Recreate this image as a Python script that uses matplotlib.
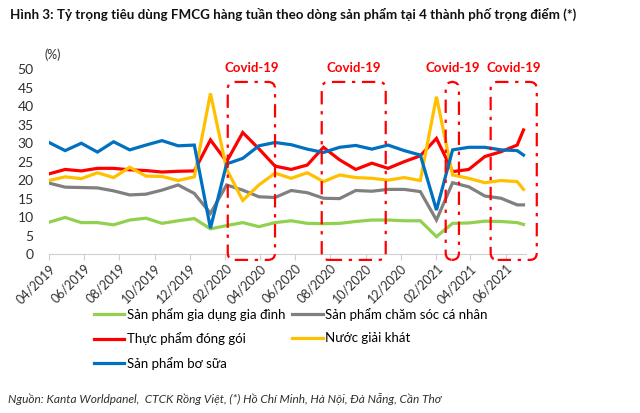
import matplotlib
matplotlib.use("Agg")
import matplotlib.pyplot as plt
import matplotlib.dates as mdates
import pandas as pd
from matplotlib.patches import FancyBboxPatch
from matplotlib.transforms import IdentityTransform

plt.rcParams["font.family"] = ["Lato", "DejaVu Sans"]

# ── Data ─────────────────────────────────────────────────────────────────────
dates = pd.to_datetime([
    "2019-04-01", "2019-04-29", "2019-05-27", "2019-06-24", "2019-07-22",
    "2019-08-19", "2019-09-16", "2019-10-14", "2019-11-11", "2019-12-09",
    "2020-01-06", "2020-02-03", "2020-03-02", "2020-03-30", "2020-04-27",
    "2020-05-25", "2020-06-22", "2020-07-20", "2020-08-17", "2020-09-14",
    "2020-10-12", "2020-11-09", "2020-12-07", "2021-01-04", "2021-02-01",
    "2021-03-01", "2021-03-29", "2021-04-26", "2021-05-24", "2021-06-21",
    "2021-07-02",
])

gia_dung = [8.6, 9.9, 8.5, 8.5, 7.9, 9.2, 9.7, 8.3, 9.0, 9.6,
            6.8, 7.7, 8.5, 7.4, 8.5, 9.0, 8.3, 8.2, 8.3, 8.8,
            9.2, 9.2, 9.0, 9.0, 4.7, 8.3, 8.4, 8.9, 8.8, 8.5, 8.0]
cham_soc = [19.2, 18.1, 18.0, 17.9, 17.1, 16.0, 16.2, 17.3, 18.7, 16.4,
            11.0, 18.7, 17.3, 15.5, 15.3, 17.2, 16.6, 15.1, 15.0, 17.2,
            17.0, 17.5, 17.5, 16.9, 9.2, 19.3, 18.2, 15.7, 15.1, 13.3, 13.3]
thuc_pham = [21.7, 22.9, 22.5, 23.2, 23.2, 22.8, 22.6, 22.2, 22.4, 22.5,
             30.9, 25.0, 32.9, 28.5, 23.8, 22.9, 24.1, 28.9, 25.5, 22.9,
             24.6, 23.2, 25.0, 26.6, 31.3, 22.3, 22.9, 26.4, 27.7, 29.5, 33.6]
nuoc_giai_khat = [19.9, 20.9, 20.4, 22.0, 20.7, 23.5, 21.1, 21.0, 19.9, 20.9,
                  43.5, 23.0, 14.5, 18.7, 21.9, 20.5, 22.0, 19.6, 21.4, 20.7,
                  20.5, 20.0, 20.7, 19.9, 42.6, 21.4, 20.5, 19.3, 19.9, 19.6, 17.5]
bo_sua = [30.2, 28.0, 30.0, 27.6, 30.4, 28.2, 29.5, 30.7, 29.3, 29.5,
          7.0, 24.4, 25.9, 29.3, 30.2, 29.6, 28.4, 27.5, 28.9, 29.4,
          28.4, 29.5, 28.0, 26.8, 11.9, 28.2, 28.9, 28.9, 28.2, 28.0, 26.8]

series_labels = ["Sản phẩm gia dụng gia đình", "Sản phẩm chăm sóc cá nhân",
                 "Thực phẩm đóng gói", "Nước giải khát", "Sản phẩm bơ sữa"]
series_values = [gia_dung, cham_soc, thuc_pham, nuoc_giai_khat, bo_sua]
series_colors = ["#92D050", "#808080", "#FF0000", "#FFC000", "#0070C0"]

# Covid-19 periods (start, end) marked with dash-dot boxes
covid_periods = [("2020-02-05", "2020-04-27"), ("2020-07-17", "2020-11-05"),
                 ("2021-02-17", "2021-03-12"), ("2021-05-06", "2021-07-25")]

# ── Figure ───────────────────────────────────────────────────────────────────
fig = plt.figure(figsize=(6.4, 4.13), dpi=100)
ax = fig.add_axes([0.0766, 0.385, 0.745, 0.447])

lines = {}
for label, vals, color in zip(series_labels, series_values, series_colors):
    lines[label], = ax.plot(dates, vals, color=color, lw=2.3,
                            solid_joinstyle="miter", label=label)

ax.set_ylim(0, 50)
ax.set_yticks(range(0, 51, 5))
ax.set_xlim(pd.Timestamp("2019-04-01"), pd.Timestamp("2021-07-06"))
ax.xaxis.set_major_locator(mdates.MonthLocator(bymonth=[2, 4, 6, 8, 10, 12]))
ax.xaxis.set_major_formatter(mdates.DateFormatter("%m/%Y"))

for side in ["left", "right", "top"]:
    ax.spines[side].set_visible(False)
ax.spines["bottom"].set_color("#d0d0d0")
ax.tick_params(axis="y", length=0, pad=11, labelsize=10, labelcolor="#303030")
ax.tick_params(axis="x", length=4, color="#d0d0d0", labelsize=9,
               labelcolor="#303030", pad=2)
for lbl in ax.get_xticklabels():
    lbl.set_rotation(45)
    lbl.set_ha("right")
    lbl.set_rotation_mode("anchor")

ax.text(-0.01, 1.045, "(%)", transform=ax.transAxes, fontsize=9,
        color="#303030", ha="left", va="bottom")

# Covid boxes drawn in pixel space so the rounded corners stay round
fig.canvas.draw()
for start, end in covid_periods:
    x0, y0 = ax.transData.transform((mdates.date2num(pd.Timestamp(start)), -1.6))
    x1, y1 = ax.transData.transform((mdates.date2num(pd.Timestamp(end)), 46.6))
    box = FancyBboxPatch((x0, y0), x1 - x0, y1 - y0,
                         boxstyle="round,pad=0,rounding_size=7",
                         transform=IdentityTransform(), fill=False,
                         edgecolor="#FF0000", lw=1.6,
                         linestyle=(0, (6, 3, 1.5, 3)), clip_on=False)
    fig.patches.append(box)
    fig.text((x0 + x1) / 2 / fig.bbox.width, (y1 + 14) / fig.bbox.height,
             "Covid-19", color="#FF0000", fontsize=9.5, fontweight="bold",
             ha="center", va="center")

# Legend: column-major fill, so reorder to get the reference row layout
order = [0, 2, 4, 1, 3]
handles = [lines[series_labels[i]] for i in order]
fig.legend(handles, [series_labels[i] for i in order], ncol=2,
           loc="upper left", bbox_to_anchor=(0.147, 0.255), frameon=False,
           fontsize=9.5, handlelength=2.3, handletextpad=0.2,
           columnspacing=0.5, labelspacing=0.88, borderaxespad=0,
           borderpad=0)

fig.text(0.016, 0.966, "Hình 3: Tỷ trọng tiêu dùng FMCG hàng tuần theo dòng "
         "sản phẩm tại 4 thành phố trọng điểm (*)", fontsize=9.6,
         fontweight="bold", ha="left", va="center", color="#111111")
fig.text(0.012, 0.034, "Nguồn: Kanta Worldpanel,  CTCK Rồng Việt, (*) Hồ Chí "
         "Minh, Hà Nội, Đà Nẵng, Cần Thơ", fontsize=8.6, style="italic",
         ha="left", va="center", color="#303030")

fig.savefig("out.png", dpi=100)
